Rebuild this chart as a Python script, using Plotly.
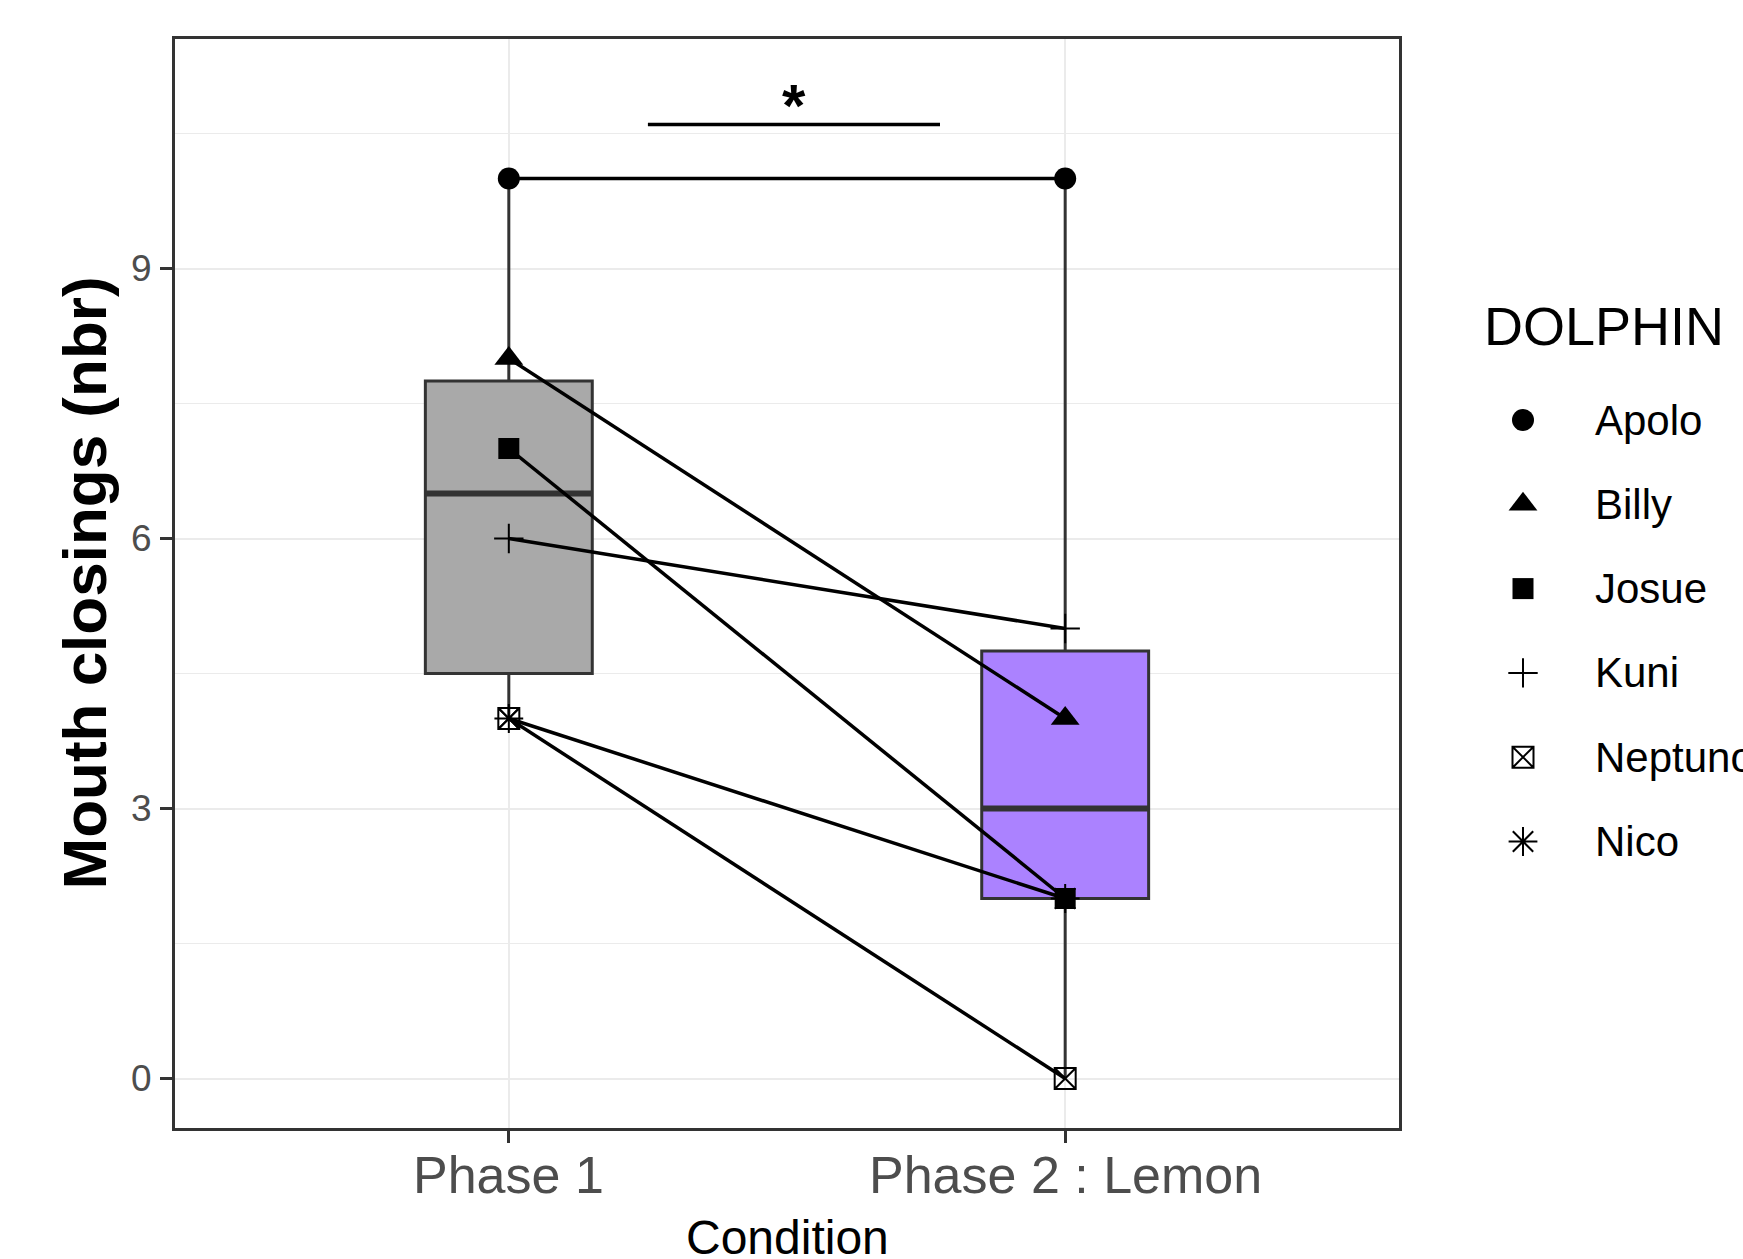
import numpy as np
import plotly.graph_objects as go

# ---------------- data ----------------
conditions = ["Phase 1", "Phase 2 : Lemon"]
dolphins = ["Apolo", "Billy", "Josue", "Kuni", "Neptuno", "Nico"]
phase1 = [10, 8, 7, 6, 4, 4]
phase2 = [10, 4, 2, 5, 0, 2]
y_ticks = [0, 3, 6, 9]
y_minor = [1.5, 4.5, 7.5, 10.5]
sig_span = [1.25, 1.775]
sig_level = 10.6
sig_label = "*"
legend_title = "DOLPHIN"
x_title = "Condition"
y_title = "Mouth closings (nbr)"

# ---------------- styles ----------------
FONT = "Liberation Sans, Arial, sans-serif"
box_fill = ["#A9A9A9", "#AB82FF"]
box_line = "#333333"
box_width = 0.3
marker_style = {
    "Apolo": dict(symbol="circle", size=22, color="black", line=dict(width=0)),
    "Billy": dict(symbol="triangle-up", size=25, color="black", line=dict(width=0)),
    "Josue": dict(symbol="square", size=21, color="black", line=dict(width=0)),
    "Kuni": dict(symbol="cross-thin-open", size=21, color="black", line=dict(width=2, color="black")),
    "Neptuno": dict(symbol="square-x-open", size=21, color="black", line=dict(width=2, color="black")),
    "Nico": dict(symbol="asterisk-open", size=24, color="black", line=dict(width=2, color="black")),
}

# figure geometry (pixels)
W, H = 1743, 1259
PL, PR, PT, PB = 175, 1399, 39, 1128
main_dom_end = (PR - PL) / (W - PL)


def px_x(p):
    return (p - PL) / (W - PL)


def px_y(p):
    return (PB - p) / (PB - PT)


fig = go.Figure()

# boxes
groups = [phase1, phase2]
for i, vals in enumerate(groups):
    xpos = i + 1
    q1, med, q3 = np.percentile(vals, [25, 50, 75])
    fig.add_trace(go.Box(
        x=[xpos], q1=[q1], median=[med], q3=[q3],
        lowerfence=[min(vals)], upperfence=[max(vals)],
        width=box_width, fillcolor=box_fill[i], whiskerwidth=0,
        line=dict(color=box_line, width=3),
        boxpoints=False, hoverinfo="skip", showlegend=False,
    ))
    fig.add_trace(go.Scatter(
        x=[xpos - box_width / 2, xpos + box_width / 2], y=[med, med],
        mode="lines", line=dict(color=box_line, width=6),
        hoverinfo="skip", showlegend=False,
    ))

# dolphin paths
for d, a, b in zip(dolphins, phase1, phase2):
    fig.add_trace(go.Scatter(
        x=[1, 2], y=[a, b], mode="lines+markers", name=d,
        line=dict(color="black", width=3.5),
        marker=marker_style[d], showlegend=False,
    ))

# significance bar
fig.add_trace(go.Scatter(
    x=sig_span, y=[sig_level, sig_level], mode="lines",
    line=dict(color="black", width=3.5), hoverinfo="skip", showlegend=False,
))
fig.add_annotation(
    x=float(np.mean(sig_span)), y=sig_level, xref="x", yref="y",
    text="<b>" + sig_label + "</b>", showarrow=False,
    font=dict(family=FONT, size=60, color="black"),
    yanchor="bottom", yshift=-16,
)

# x tick labels
for k, c in enumerate(conditions):
    fig.add_annotation(
        x=k + 1, y=px_y(1175), xref="x", yref="paper", text=c,
        showarrow=False, xanchor="center", yanchor="middle",
        font=dict(family=FONT, size=52, color="#4D4D4D"),
    )

# manual legend: markers in a side subplot measured in pixels
leg_sym_x = 1523
leg_y0, leg_dy = 420, 84.3
for k, d in enumerate(dolphins):
    yy = leg_y0 + k * leg_dy
    fig.add_trace(go.Scatter(
        x=[leg_sym_x], y=[yy], xaxis="x2", yaxis="y2", mode="markers",
        marker=marker_style[d], cliponaxis=False, hoverinfo="skip", showlegend=False,
    ))
    fig.add_annotation(
        x=px_x(1593), y=px_y(yy), xref="paper", yref="paper", text=d,
        showarrow=False, xanchor="left", yanchor="middle",
        font=dict(family=FONT, size=42, color="black"),
    )
fig.add_annotation(
    x=px_x(1482), y=px_y(326), xref="paper", yref="paper", text=legend_title,
    showarrow=False, xanchor="left", yanchor="middle",
    font=dict(family=FONT, size=54, color="black"),
)

# axis titles
fig.add_annotation(
    x=px_x((PL + PR) / 2), y=px_y(1237), xref="paper", yref="paper", text=x_title,
    showarrow=False, xanchor="center", yanchor="middle",
    font=dict(family=FONT, size=48, color="black"),
)
fig.add_annotation(
    x=px_x(84), y=0.5, xref="paper", yref="paper", text="<b>" + y_title + "</b>",
    showarrow=False, xanchor="center", yanchor="middle", textangle=-90,
    font=dict(family=FONT, size=62, color="black"),
)

fig.update_layout(
    width=W, height=H,
    margin=dict(l=PL, r=0, t=PT, b=H - PB, autoexpand=False),
    paper_bgcolor="white", plot_bgcolor="white",
    showlegend=False, boxmode="overlay",
    font=dict(family=FONT),
    xaxis=dict(
        domain=[0, main_dom_end],
        range=[0.4, 2.6], tickvals=[1, 2], showticklabels=False,
        showgrid=True, gridcolor="#EBEBEB", gridwidth=2, zeroline=False,
        ticks="outside", ticklen=12, tickwidth=2.5, tickcolor="#333333",
        showline=True, mirror=True, linecolor="#333333", linewidth=3,
    ),
    yaxis=dict(
        range=[-0.55, 11.55], tickvals=y_ticks,
        showgrid=True, gridcolor="#EBEBEB", gridwidth=2, zeroline=False,
        minor=dict(tickvals=y_minor, showgrid=True, gridcolor="#EBEBEB", gridwidth=1, ticks=""),
        ticks="outside", ticklen=12, tickwidth=2.5, tickcolor="#333333",
        showline=True, mirror=True, linecolor="#333333", linewidth=3,
        tickfont=dict(family=FONT, size=37, color="#4D4D4D"),
        ticklabelstandoff=1,
    ),
    xaxis2=dict(domain=[main_dom_end, 1], range=[PR, W], anchor="y2",
                visible=False, fixedrange=True),
    yaxis2=dict(domain=[0, 1], range=[PB, PT], anchor="x2",
                visible=False, fixedrange=True),
)

fig.write_html("out.html", config={"displayModeBar": False},
               post_script="document.body.style.margin='0px';")
